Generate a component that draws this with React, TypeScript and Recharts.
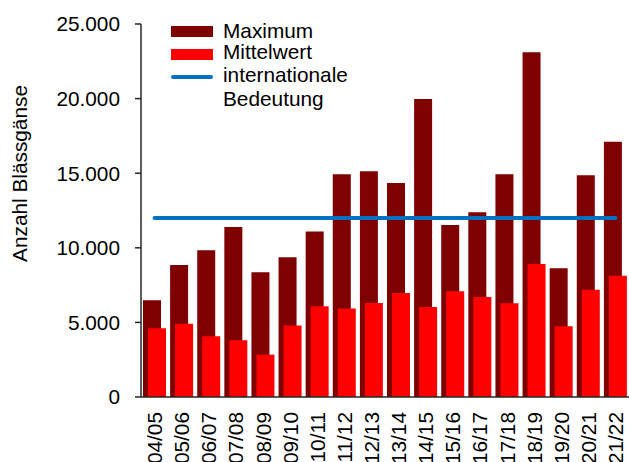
import React from "react"
import {
  ComposedChart,
  Bar,
  Line,
  XAxis,
  YAxis,
  Legend,
} from "recharts"

const seasons = [
  "04/05", "05/06", "06/07", "07/08", "08/09", "09/10",
  "10/11", "11/12", "12/13", "13/14", "14/15", "15/16",
  "16/17", "17/18", "18/19", "19/20", "20/21", "21/22",
]

const maximum = [
  6480, 8850, 9830, 11390, 8360, 9360,
  11100, 14930, 15130, 14340, 19970, 11530,
  12380, 14930, 23100, 8630, 14860, 17110,
]

const mittelwert = [
  4600, 4910, 4070, 3800, 2840, 4800,
  6080, 5940, 6300, 6970, 6030, 7080,
  6700, 6280, 8910, 4740, 7190, 8130,
]

const internationaleBedeutung = 12000

const yTicks = [0, 5000, 10000, 15000, 20000, 25000]

const data = seasons.map((season, i) => ({
  season,
  maximum: maximum[i],
  mittelwert: mittelwert[i],
  intl: internationaleBedeutung,
}))

const FONT = '"Liberation Sans", Arial, sans-serif'
const FONT_SIZE = 20.8
const DARK_RED = "#7f0000"
const RED = "#ff0000"
const BLUE = "#0070c0"

// 25000 -> "25.000"
function formatThousands(v: number): string {
  return String(v).replace(/\B(?=(\d{3})+(?!\d))/g, ".")
}

function SeasonTick(props: any) {
  const { x, payload } = props
  return (
    <text
      transform={`translate(${x},412) rotate(-90)`}
      textAnchor="end"
      dy="0.36em"
      fontSize={FONT_SIZE}
      fontFamily={FONT}
      fill="#000"
    >
      {payload.value}
    </text>
  )
}

function ChartLegend() {
  const text: React.CSSProperties = {
    position: "absolute",
    left: 223,
    fontSize: FONT_SIZE,
    lineHeight: `${FONT_SIZE}px`,
    fontFamily: FONT,
    color: "#000",
    whiteSpace: "nowrap",
  }
  return (
    <div style={{ position: "relative", width: 0, height: 0 }}>
      <div style={{ position: "absolute", left: 171, top: 26, width: 42, height: 11, background: DARK_RED }} />
      <div style={{ ...text, top: 20.7 }}>Maximum</div>
      <div style={{ position: "absolute", left: 171, top: 48.5, width: 42, height: 11, background: RED }} />
      <div style={{ ...text, top: 42.4 }}>Mittelwert</div>
      <div style={{ position: "absolute", left: 171, top: 75, width: 42, height: 4, borderRadius: 2, background: BLUE }} />
      <div style={{ ...text, top: 65.4 }}>internationale</div>
      <div style={{ ...text, top: 89 }}>Bedeutung</div>
    </div>
  )
}

export default function App() {
  return (
    <div
      style={{
        position: "absolute",
        left: 0,
        top: 0,
        width: 629,
        height: 462,
        overflow: "hidden",
        background: "#fff",
      }}
    >
      <ComposedChart
        width={629}
        height={470}
        data={data}
        margin={{ top: 24, right: 0, left: 0, bottom: 0 }}
        barSize={18}
        barGap={-13}
      >
        <XAxis
          dataKey="season"
          interval={0}
          height={73}
          tickLine={false}
          axisLine={{ stroke: "#262626", strokeWidth: 1.5 }}
          tick={<SeasonTick />}
        />
        <YAxis
          width={141}
          domain={[0, 25000]}
          ticks={yTicks}
          tickFormatter={formatThousands}
          tickSize={6}
          tickMargin={15}
          tickLine={{ stroke: "#262626", strokeWidth: 1.5 }}
          axisLine={{ stroke: "#262626", strokeWidth: 1.5 }}
          tick={{ fill: "#000", fontSize: FONT_SIZE, fontFamily: FONT }}
          label={{
            content: () => (
              <text
                transform="translate(27,173.5) rotate(-90)"
                textAnchor="middle"
                fontSize={FONT_SIZE}
                fontFamily={FONT}
                fill="#000"
              >
                Anzahl Blässgänse
              </text>
            ),
          }}
        />
        <Legend content={<ChartLegend />} wrapperStyle={{ left: 0, top: 0 }} />
        <Bar dataKey="maximum" fill={DARK_RED} isAnimationActive={false} />
        <Bar dataKey="mittelwert" fill={RED} isAnimationActive={false} />
        <Line
          dataKey="intl"
          stroke={BLUE}
          strokeWidth={4}
          strokeLinecap="round"
          dot={false}
          activeDot={false}
          isAnimationActive={false}
        />
      </ComposedChart>
    </div>
  )
}
